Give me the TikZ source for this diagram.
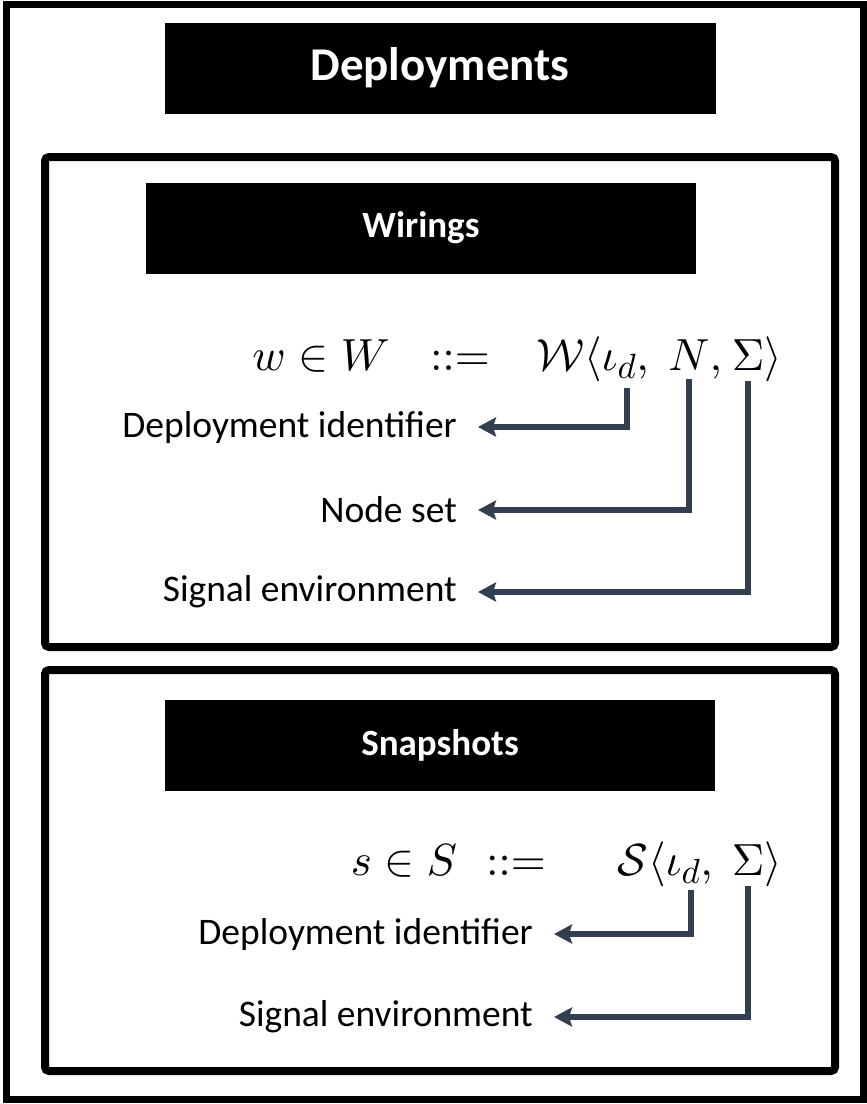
\documentclass[tikz,border=0pt]{standalone}
\usepackage[no-math]{fontspec}
\setmainfont{Carlito}
\usetikzlibrary{arrows.meta,positioning}
\DeclareFontShape{OML}{cmm}{m}{it}{<->cmmi10}{}
\DeclareFontShape{OMS}{cmsy}{m}{n}{<->cmsy10}{}
\DeclareFontShape{OT1}{cmr}{m}{n}{<->cmr10}{}
\DeclareMathSizes{45}{45}{35}{27}
\definecolor{wiregray}{RGB}{50,63,80}

\begin{document}
\begin{tikzpicture}[x=1pt,y=-1pt,>={Stealth[length=18pt,width=19pt,inset=3pt]},
    frame/.style={draw,line width=8pt,rounded corners=4pt},
    header/.style={fill=black,text=white,inner sep=0pt,minimum width=550pt,minimum height=91pt,font=\bfseries\fontsize{37}{42}\selectfont},
    sym/.style={inner sep=0pt,anchor=base,font=\fontsize{45}{50}\selectfont},
    lbl/.style={inner sep=0pt,anchor=east,font=\fontsize{37.5}{42}\selectfont},
    wire/.style={->,draw=wiregray,line width=6pt,shorten >=21pt}]
    \useasboundingbox (0,0) rectangle (867,1104);
    \draw[line width=7pt] (6,4) rectangle (863,1099);
    \draw[frame] (45,157) rectangle (835,647);
    \draw[frame] (45,670) rectangle (835,1071);

    \node[header,minimum width=551pt,font=\bfseries\fontsize{47}{52}\selectfont] (deploy) at (440,68) {Deployments};
    \node[header] (wirings) at (421,228) {Wirings};
    \node[header] (snaps)   at (440,745) {Snapshots};

    % wirings
    \node[sym] (wlhs) at (321,370) {$w \in W$};
    \node[sym] (wdef) at (460,370) {$::=$};
    \node[sym] (wid)  at (627,370) {$\llap{$\mathcal{W}\langle\iota$}{}_d\rlap{$,$}$};
    \node[sym] (wn)   at (689,370) {$N\rlap{$,$}$};
    \node[sym] (wsig) at (748,370) {$\Sigma\rlap{$\rangle$}$};
    \node[lbl] (lwid)  at (457,427) {Deployment identifier};
    \node[lbl] (lwn)   at (457,510) {Node set};
    \node[lbl] (lwsig) at (457,592) {Signal environment};

    % snapshots
    \node[sym] (slhs) at (404,875) {$s \in S$};
    \node[sym] (sdef) at (516,875) {$::=$};
    \node[sym] (sid)  at (691,875) {$\llap{$\mathcal{S}\langle\iota$}{}_d\rlap{$,$}$};
    \node[sym] (ssig) at (748,875) {$\Sigma\rlap{$\rangle$}$};
    \node[lbl] (lsid)  at (533,934)  {Deployment identifier};
    \node[lbl] (lssig) at (533,1017) {Signal environment};

    \draw[wire,shorten <=7pt] (wid.south) |- (lwid.east);
    \draw[wire] (wn.south)   |- (lwn.east);
    \draw[wire] (wsig.south) |- (lwsig.east);
    \draw[wire,shorten <=4pt] (sid.south) |- (lsid.east);
    \draw[wire] (ssig.south) |- (lssig.east);
\end{tikzpicture}
\end{document}
